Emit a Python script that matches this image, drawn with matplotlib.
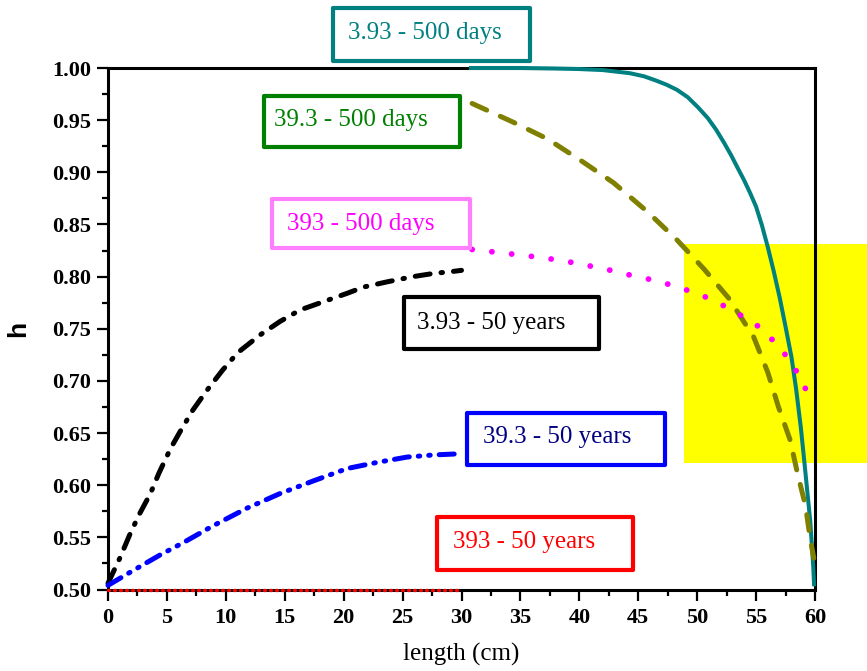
import numpy as np
import matplotlib.pyplot as plt
from matplotlib.patches import Rectangle
from matplotlib.ticker import MultipleLocator

# ---- data ----
teal_x = [30.8, 35, 38, 40, 42, 44.3, 45.5, 46.5, 47.4, 48.3, 49.2, 50.1, 50.9, 51.6, 52.3, 52.9, 53.4, 54.0, 54.5, 55.0, 55.5,
          56.0, 56.5, 57.0, 57.5, 58.0, 58.4, 58.8, 59.1, 59.4, 59.6, 59.75, 59.85, 59.92]
teal_y = [1.0, 1.0, 0.9995, 0.999, 0.998, 0.995, 0.992, 0.988, 0.984, 0.979, 0.972, 0.962, 0.952, 0.941, 0.928, 0.916, 0.905, 0.892,
          0.880, 0.867, 0.849, 0.828, 0.805, 0.780, 0.752, 0.723, 0.692, 0.655, 0.622, 0.588, 0.565, 0.540, 0.522, 0.505]

olive_x = [30.9, 34.4, 37.3, 40.3, 42.9, 45.8, 48.3, 50.6, 52.7, 54.8, 56.0, 56.9, 57.9, 58.5, 59.2, 59.6, 59.9]
olive_y = [0.966, 0.948, 0.932, 0.910, 0.890, 0.862, 0.835, 0.807, 0.779, 0.742, 0.708, 0.675, 0.643, 0.612, 0.580, 0.548, 0.530]

magenta_x = [30.9, 34, 37, 39.7, 41.4, 43.1, 44.8, 46.6, 48.3, 50.0, 51.6, 53.4, 55.1, 56.8, 58.1, 59.0, 59.9]
magenta_y = [0.826, 0.822, 0.818, 0.813, 0.809, 0.805, 0.800, 0.796, 0.790, 0.784, 0.776, 0.765, 0.753, 0.735, 0.716, 0.697, 0.676]

black_x = [0, 1.0, 1.9, 2.7, 3.6, 4.3, 5.3, 6.1, 7.2, 8.4, 9.7, 11.0, 12.9, 14.6, 16.3, 18.3, 20.3, 21.7, 23.7, 25.9, 27.6, 29.3, 30]
black_y = [0.506, 0.530, 0.554, 0.573, 0.592, 0.611, 0.635, 0.651, 0.672, 0.691, 0.710, 0.727, 0.744, 0.757, 0.768, 0.776,
           0.784, 0.790, 0.795, 0.800, 0.803, 0.805, 0.806]

blue_x = [0, 2.1, 4.4, 6.4, 8.9, 11.8, 14.6, 17.4, 20.3, 22.9, 25.4, 27.6, 29.6]
blue_y = [0.504, 0.518, 0.533, 0.545, 0.561, 0.578, 0.592, 0.604, 0.616, 0.622, 0.627, 0.629, 0.630]

red_x = [0, 30]
red_y = [0.5, 0.5]

# highlighted region (x0, y0, y1)
hl_x0, hl_y0, hl_y1 = 48.85, 0.621, 0.831

labels = ['3.93 - 500 days', '39.3 - 500 days', '393 - 500 days',
          '3.93 - 50 years', '39.3 - 50 years', '393 - 50 years']

W, H = 867, 671
fig = plt.figure(figsize=(W / 100, H / 100), dpi=100)
ax = fig.add_axes([108 / W, 1 - 589.5 / H, 707 / W, 521.5 / H])

serif = 'Liberation Serif'

# yellow box sticks out past the right spine
ax.add_patch(Rectangle((hl_x0, hl_y0), 20, hl_y1 - hl_y0, facecolor='#FFFF00',
                       edgecolor='none', zorder=1, clip_on=False))

ax.plot(teal_x, teal_y, color='#008080', lw=2.9, zorder=3, clip_on=False)
ax.plot(olive_x, olive_y, color='#808000', lw=3.6, ls=(0, (3.2, 3.0)),
        dash_capstyle='round', zorder=3, clip_on=False)
ax.plot(magenta_x, magenta_y, color='#FF00FF', lw=4.2, ls=(0, (0.01, 3.4)),
        dash_capstyle='round', zorder=3, clip_on=False)
ax.plot(black_x, black_y, color='black', lw=3.6, ls=(0, (3.0, 2.2, 0.3, 2.2)),
        dash_capstyle='round', zorder=3, clip_on=False)
ax.plot(blue_x, blue_y, color='#0000FF', lw=3.6,
        ls=(0, (3.0, 1.8, 0.3, 1.8, 0.3, 1.8)),
        dash_capstyle='round', zorder=3, clip_on=False)
ax.plot(red_x, red_y, color='#FF0000', lw=2.4, ls=(0, (0.3, 1.5)),
        dash_capstyle='round', zorder=4, clip_on=False)

ax.set_xlim(0, 60)
ax.set_ylim(0.5, 1.0)
ax.xaxis.set_major_locator(MultipleLocator(5))
ax.xaxis.set_minor_locator(MultipleLocator(2.5))
ax.yaxis.set_major_locator(MultipleLocator(0.05))
ax.yaxis.set_minor_locator(MultipleLocator(0.025))
ax.yaxis.set_major_formatter(lambda v, p: f'{v:.2f}')

for s in ax.spines.values():
    s.set_linewidth(2.2)
    s.set_zorder(2.5)

ax.tick_params(which='both', direction='out', top=False, right=False, width=1.6)
ax.tick_params(which='major', length=8)
ax.tick_params(which='minor', length=4.5)
ax.tick_params(axis='y', pad=4)
ax.tick_params(axis='x', pad=5)
for lab in ax.get_xticklabels() + ax.get_yticklabels():
    lab.set_fontfamily(serif)
    lab.set_fontweight('bold')
    lab.set_fontsize(16)

ax.set_xlabel('length (cm)', fontfamily=serif, fontsize=18, labelpad=11)
ax.set_ylabel('h', fontfamily='Liberation Sans', fontweight='bold', fontsize=19, labelpad=16)

# label boxes: (left, top, right, bottom) in pixels, text offset, colours
boxes = [
    ((333, 8, 530, 61), 15, 31, '#008080', '#008080'),
    ((264, 96, 460, 147), 10, 30, '#008000', '#008000'),
    ((272, 199, 470, 248), 15, 31, '#FF80FF', '#FF00FF'),
    ((404, 297, 599, 349), 13, 32, 'black', 'black'),
    ((467, 413, 665, 465), 16, 30, '#0000FF', '#000080'),
    ((437, 517, 633, 570), 16, 31, '#FF0000', '#FF0000'),
]
for label, ((l, t, r, b), dx, dy, ec, tc) in zip(labels, boxes):
    fig.add_artist(Rectangle((l / W, 1 - b / H), (r - l) / W, (b - t) / H,
                             transform=fig.transFigure, facecolor='white',
                             edgecolor=ec, lw=3, joinstyle='round', zorder=5))
    fig.text((l + dx) / W, 1 - (t + dy) / H, label, color=tc, fontfamily=serif,
             fontsize=18, ha='left', va='baseline', zorder=6)

fig.savefig('out.png', dpi=100)
